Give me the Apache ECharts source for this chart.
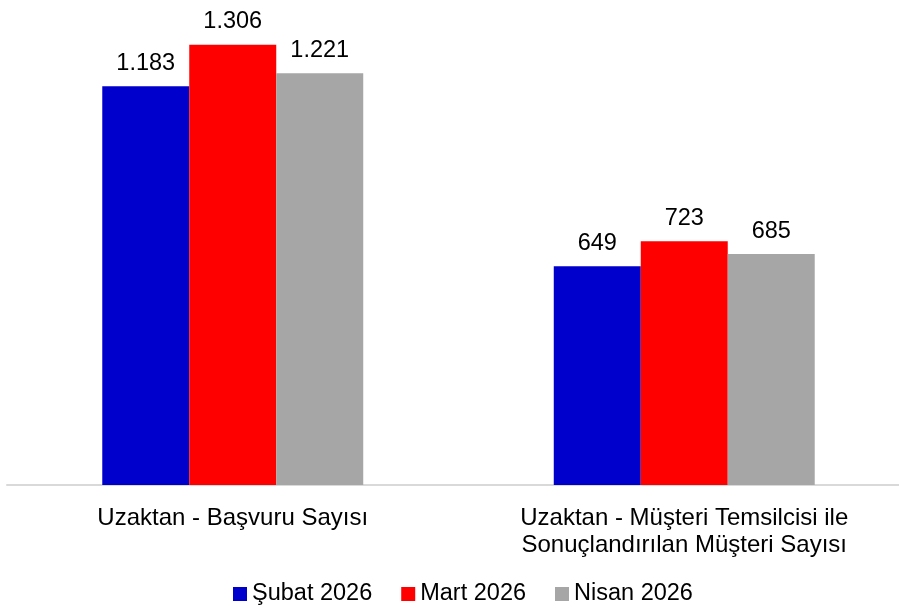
<!DOCTYPE html>
<html>
<head>
<meta charset="utf-8">
<script src="https://cdn.jsdelivr.net/npm/echarts@6/dist/echarts.min.js"></script>
<style>
  html, body { margin: 0; padding: 0; background: #fff; }
  #main { width: 899px; height: 609px; }
</style>
</head>
<body>
<div id="main"></div>
<script>
// kategoriler ve seriler
var categories = ["Uzaktan - Başvuru Sayısı", "Uzaktan - Müşteri Temsilcisi ile\nSonuçlandırılan Müşteri Sayısı"];
var seriesNames = ["Şubat 2026", "Mart 2026", "Nisan 2026"];
var subatValues = [1183, 649];
var martValues = [1306, 723];
var nisanValues = [1221, 685];
var colors = ["#0000CC", "#FF0000", "#A6A6A6"];

function fmt(v) {
  // binlik ayraç nokta
  return String(v).replace(/\B(?=(\d{3})+(?!\d))/g, ".");
}

var chart = echarts.init(document.getElementById("main"));
var allData = [subatValues, martValues, nisanValues];
var series = [];
for (var i = 0; i < seriesNames.length; i++) {
  series.push({
    name: seriesNames[i],
    type: "bar",
    data: allData[i],
    barGap: "0%",
    barCategoryGap: "42.2%",
    itemStyle: { color: colors[i] },
    label: {
      show: true,
      position: "top",
      distance: 11,
      color: "#000",
      fontSize: 23.5,
      fontFamily: "Liberation Sans, Arial",
      formatter: function (p) { return fmt(p.value); }
    }
  });
}

chart.setOption({
  animation: false,
  grid: { left: 7, right: -11, top: 13, bottom: 124, containLabel: false, outerBoundsMode: "none" },
  legend: {
    data: seriesNames,
    bottom: 3,
    padding: 0,
    left: 233,
    itemWidth: 14,
    itemHeight: 14,
    itemGap: 29,
    icon: "rect",
    textStyle: { fontSize: 23.5, color: "#000", fontFamily: "Liberation Sans, Arial" }
  },
  xAxis: {
    type: "category",
    data: categories,
    axisLine: { lineStyle: { color: "#D9D9D9", width: 2 } },
    axisTick: { show: false },
    axisLabel: {
      color: "#000",
      fontSize: 24,
      fontFamily: "Liberation Sans, Arial",
      lineHeight: 27,
      margin: 20,
      interval: 0
    }
  },
  yAxis: {
    type: "value",
    min: 0,
    max: 1400,
    show: false,
    splitLine: { show: false }
  },
  series: series
});
</script>
</body>
</html>
